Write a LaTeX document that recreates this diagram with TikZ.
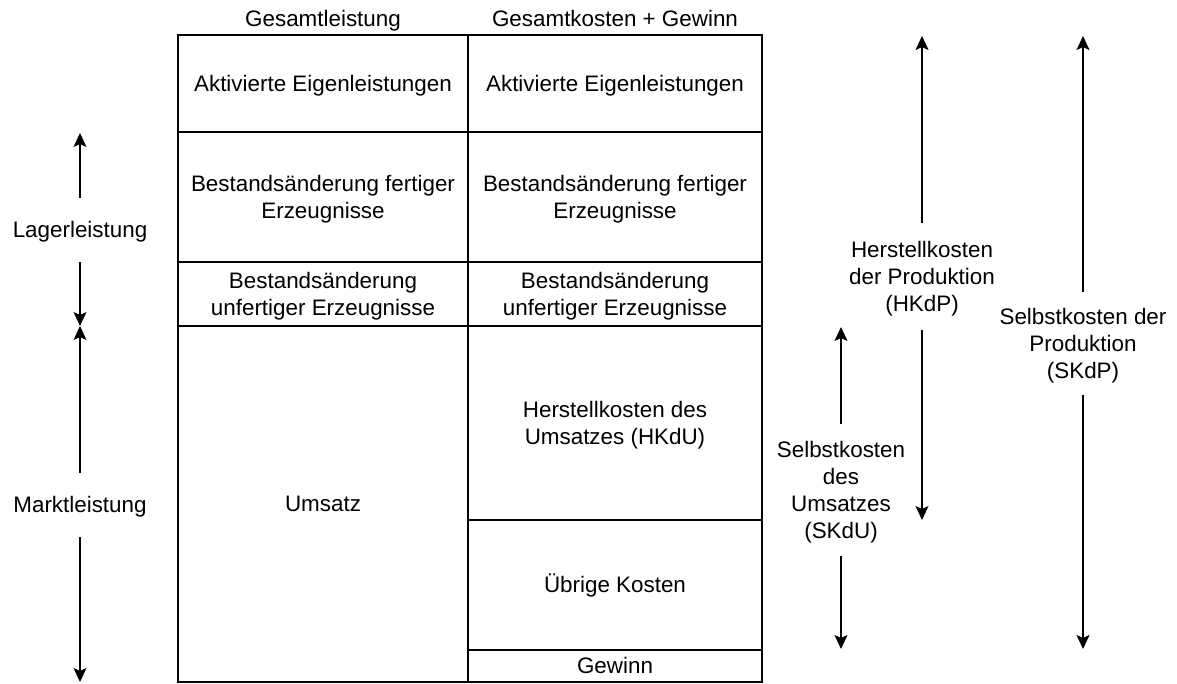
\documentclass[tikz,border=0pt]{standalone}
\usepackage{fontspec}
\setmainfont{Liberation Sans}
\usetikzlibrary{arrows.meta}
\newcommand\ls{\rule[-5.7pt]{0pt}{26.9pt}}
\begin{document}
\begin{tikzpicture}[x=1pt,y=-1pt,
  every node/.style={font=\fontsize{22.4}{26.9}\selectfont, align=center, inner sep=0pt},
  cell/.style={draw, line width=1.4pt},
  lcol/.style={cell, minimum width=290pt},
  rcol/.style={cell, minimum width=294pt},
  lbl/.style={minimum width=10pt},
  arr/.style={line width=1.4pt, -{Stealth[length=14pt,width=13pt,inset=3pt]}}
]
\useasboundingbox (0,0) rectangle (1177,684);
% headers
\node (h1) at (323,19) {\ls Gesamtleistung};
\node (h2) at (615,19) {\ls Gesamtkosten + Gewinn};
% left column
\node[lcol, minimum height=97pt] (l1) at (323,83.5) {\ls Aktivierte Eigenleistungen};
\node[lcol, minimum height=130pt] (l2) at (323,197) {\ls Bestandsänderung fertiger\\\ls Erzeugnisse};
\node[lcol, minimum height=64pt] (l3) at (323,294) {\ls Bestandsänderung\\\ls unfertiger Erzeugnisse};
\node[lcol, minimum height=356pt] (l4) at (323,504) {\ls Umsatz};
% right column
\node[rcol, minimum height=97pt] (r1) at (615,83.5) {\ls Aktivierte Eigenleistungen};
\node[rcol, minimum height=130pt] (r2) at (615,197) {\ls Bestandsänderung fertiger\\\ls Erzeugnisse};
\node[rcol, minimum height=64pt] (r3) at (615,294) {\ls Bestandsänderung\\\ls unfertiger Erzeugnisse};
\node[rcol, minimum height=194pt] (r4) at (615,423) {\ls Herstellkosten des\\\ls Umsatzes (HKdU)};
\node[rcol, minimum height=130pt] (r5) at (615,585) {\ls Übrige Kosten};
\node[rcol, minimum height=32pt] (r6) at (615,666) {\ls Gewinn};
% left arrows
\coordinate (lagtop) at (80,133);
\coordinate (lagbot) at (80,326);
\node[lbl, minimum height=64pt] (lag) at (80,230) {\ls Lagerleistung};
\draw[arr] (lag) -- (lagtop);
\draw[arr] (lag) -- (lagbot);
\coordinate (mtop) at (80,326);
\coordinate (mbot) at (80,682);
\node[lbl, minimum height=64pt] (markt) at (80,505) {\ls Marktleistung};
\draw[arr] (markt) -- (mtop);
\draw[arr] (markt) -- (mbot);
% right arrows
\coordinate (sutop) at (841,327);
\coordinate (subot) at (841,649);
\node[lbl, minimum height=132pt] (sku) at (841,490) {\ls Selbstkosten\\\ls des\\\ls Umsatzes\\\ls (SKdU)};
\draw[arr] (sku) -- (sutop);
\draw[arr] (sku) -- (subot);
\coordinate (hptop) at (922,36);
\coordinate (hpbot) at (922,520);
\node[lbl, minimum height=107pt] (hkp) at (922,276.5) {\ls Herstellkosten\\\ls der Produktion\\\ls (HKdP)};
\draw[arr] (hkp) -- (hptop);
\draw[arr] (hkp) -- (hpbot);
\coordinate (sptop) at (1083,36);
\coordinate (spbot) at (1083,649);
\node[lbl, minimum height=103pt] (skp) at (1083,343.5) {\ls Selbstkosten der\\\ls Produktion\\\ls (SKdP)};
\draw[arr] (skp) -- (sptop);
\draw[arr] (skp) -- (spbot);
\end{tikzpicture}
\end{document}
